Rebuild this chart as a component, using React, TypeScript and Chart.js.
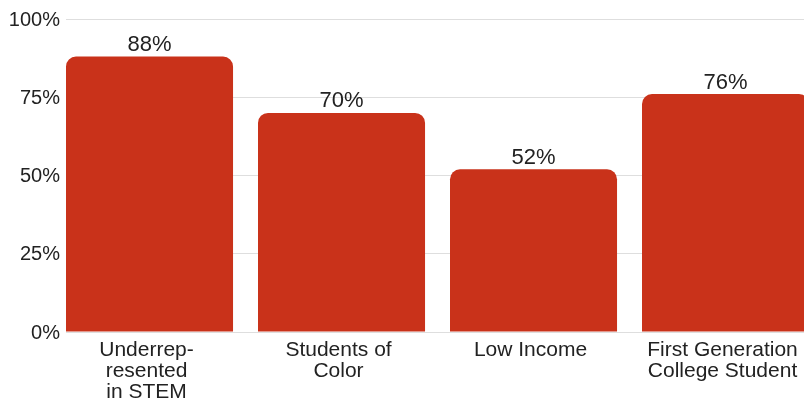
import React, { useEffect, useRef } from "react";
import { Chart, registerables } from "chart.js";

Chart.register(...registerables);

// ---- data ----
const CATEGORIES: string[][] = [
  ["Underrep-", "resented", "in STEM"],
  ["Students of", "Color"],
  ["Low Income"],
  ["First Generation", "College Student"],
];
const VALUES: number[] = [88, 70, 52, 76];
const Y_TICKS: number[] = [0, 25, 50, 75, 100];

// ---- styles ----
const BAR_COLOR = "#C9321A";
const TEXT_COLOR = "#222222";
const GRID_COLOR = "#dedede";
const FONT = "'Liberation Sans', Arial, sans-serif";
const BAR_SHIFT = 0.435; // bars sit at the left of each category band

const valueLabels = {
  id: "valueLabels",
  afterDatasetsDraw(chart: any) {
    const ctx = chart.ctx;
    const meta = chart.getDatasetMeta(0);
    ctx.save();
    ctx.font = `22px ${FONT}`;
    ctx.fillStyle = TEXT_COLOR;
    ctx.textAlign = "center";
    ctx.textBaseline = "alphabetic";
    meta.data.forEach((bar: any, i: number) => {
      ctx.fillText(`${VALUES[i]}%`, bar.x, bar.y - 5.5);
    });
    ctx.restore();
  },
};

export default function App() {
  const ref = useRef<HTMLCanvasElement | null>(null);

  useEffect(() => {
    if (!ref.current) return;
    const chart = new Chart(ref.current, {
      type: "bar",
      data: {
        datasets: [
          {
            data: VALUES.map((v, i) => ({ x: i + BAR_SHIFT, y: v })),
            backgroundColor: BAR_COLOR,
            borderRadius: 10,
            borderSkipped: "bottom",
            categoryPercentage: 1,
            barPercentage: 0.87,
          },
        ],
      },
      options: {
        animation: false,
        responsive: false,
        devicePixelRatio: 1,
        layout: { padding: { top: 19, left: 0, right: 0, bottom: 0 } },
        plugins: {
          legend: { display: false },
          tooltip: { enabled: false },
        },
        scales: {
          x: {
            type: "linear",
            min: 0,
            max: 4,
            offset: false,
            grid: { display: false, drawTicks: false },
            border: { display: false },
            afterBuildTicks: (scale: any) => {
              scale.ticks = CATEGORIES.map((_, i) => ({ value: i + BAR_SHIFT }));
            },
            afterFit: (scale: any) => {
              scale.height = 68;
            },
            ticks: {
              autoSkip: false,
              maxRotation: 0,
              minRotation: 0,
              padding: 8,
              labelOffset: -3,
              color: TEXT_COLOR,
              font: { family: FONT, size: 21, lineHeight: 1.0 },
              callback: (_v: any, i: number) => CATEGORIES[i],
            },
          },
          y: {
            min: 0,
            max: 100,
            afterFit: (scale: any) => {
              scale.width = 66;
            },
            afterBuildTicks: (scale: any) => {
              scale.ticks = Y_TICKS.map((v) => ({ value: v }));
            },
            border: { display: false },
            grid: { color: GRID_COLOR, drawTicks: false, lineWidth: 1 },
            ticks: {
              padding: 6,
              labelOffset: 1,
              color: TEXT_COLOR,
              font: { family: FONT, size: 20, lineHeight: 1.0 },
              callback: (v: any) => `${v}%`,
            },
          },
        },
      },
      plugins: [valueLabels],
    } as any);
    return () => chart.destroy();
  }, []);

  return (
    <div
      style={{
        position: "fixed",
        left: 0,
        top: 0,
        width: 804,
        height: 400,
        overflow: "hidden",
        background: "#fff",
      }}
    >
      <canvas ref={ref} width={834} height={400} style={{ display: "block" }} />
    </div>
  );
}
